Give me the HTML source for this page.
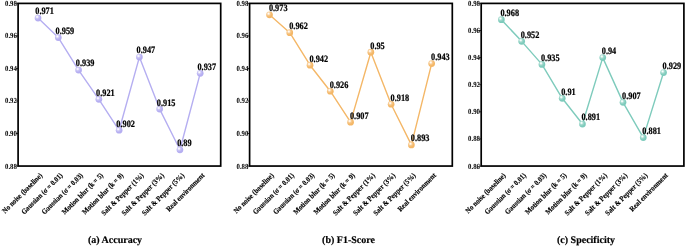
<!DOCTYPE html><html><head><meta charset="utf-8"><style>html,body{margin:0;padding:0;background:#fff;}svg{display:block;will-change:transform;}text{text-rendering:geometricPrecision;font-family:"Liberation Serif",serif;font-weight:bold;fill:#000;}</style></head><body>
<svg width="685" height="246" viewBox="0 0 685 246">
<defs>
<radialGradient id="g0" cx="0.36" cy="0.33" r="0.62"><stop offset="0" stop-color="#ffffff"/><stop offset="0.15" stop-color="#f4f2fd"/><stop offset="0.42" stop-color="#c9c4f5"/><stop offset="0.8" stop-color="#b5aef1"/><stop offset="1" stop-color="#b5aef1"/></radialGradient>
<radialGradient id="g1" cx="0.36" cy="0.33" r="0.62"><stop offset="0" stop-color="#ffffff"/><stop offset="0.15" stop-color="#fff3e4"/><stop offset="0.42" stop-color="#f7ca90"/><stop offset="0.8" stop-color="#f4b767"/><stop offset="1" stop-color="#f4b767"/></radialGradient>
<radialGradient id="g2" cx="0.36" cy="0.33" r="0.62"><stop offset="0" stop-color="#ffffff"/><stop offset="0.15" stop-color="#eef9f6"/><stop offset="0.42" stop-color="#a3d9cd"/><stop offset="0.8" stop-color="#7ecbbc"/><stop offset="1" stop-color="#7ecbbc"/></radialGradient>
</defs>
<line x1="15.90" y1="3.40" x2="18.10" y2="3.40" stroke="#000" stroke-width="0.8"/>
<text transform="translate(16.90 5.90) scale(0.87 1)" font-size="7.8" text-anchor="end">0.98</text>
<line x1="15.90" y1="35.93" x2="18.10" y2="35.93" stroke="#000" stroke-width="0.8"/>
<text transform="translate(16.90 38.43) scale(0.87 1)" font-size="7.8" text-anchor="end">0.96</text>
<line x1="15.90" y1="68.46" x2="18.10" y2="68.46" stroke="#000" stroke-width="0.8"/>
<text transform="translate(16.90 70.96) scale(0.87 1)" font-size="7.8" text-anchor="end">0.94</text>
<line x1="15.90" y1="100.99" x2="18.10" y2="100.99" stroke="#000" stroke-width="0.8"/>
<text transform="translate(16.90 103.49) scale(0.87 1)" font-size="7.8" text-anchor="end">0.92</text>
<line x1="15.90" y1="133.52" x2="18.10" y2="133.52" stroke="#000" stroke-width="0.8"/>
<text transform="translate(16.90 136.02) scale(0.87 1)" font-size="7.8" text-anchor="end">0.90</text>
<line x1="15.90" y1="166.05" x2="18.10" y2="166.05" stroke="#000" stroke-width="0.8"/>
<text transform="translate(16.90 168.55) scale(0.87 1)" font-size="7.8" text-anchor="end">0.88</text>
<polyline points="38.05,18.04 58.32,37.56 78.59,70.09 98.86,99.36 119.13,130.27 139.40,57.07 159.67,109.12 179.94,149.78 200.21,73.34" fill="none" stroke="#b5aef1" stroke-width="1.4" stroke-linejoin="round"/>
<circle cx="38.05" cy="18.04" r="3.35" fill="url(#g0)"/>
<circle cx="58.32" cy="37.56" r="3.35" fill="url(#g0)"/>
<circle cx="78.59" cy="70.09" r="3.35" fill="url(#g0)"/>
<circle cx="98.86" cy="99.36" r="3.35" fill="url(#g0)"/>
<circle cx="119.13" cy="130.27" r="3.35" fill="url(#g0)"/>
<circle cx="139.40" cy="57.07" r="3.35" fill="url(#g0)"/>
<circle cx="159.67" cy="109.12" r="3.35" fill="url(#g0)"/>
<circle cx="179.94" cy="149.78" r="3.35" fill="url(#g0)"/>
<circle cx="200.21" cy="73.34" r="3.35" fill="url(#g0)"/>
<text transform="translate(35.25 14.44) scale(0.85 1)" font-size="9.75" stroke="#000" stroke-width="0.22">0.971</text>
<text transform="translate(55.52 33.96) scale(0.85 1)" font-size="9.75" stroke="#000" stroke-width="0.22">0.959</text>
<text transform="translate(75.79 66.49) scale(0.85 1)" font-size="9.75" stroke="#000" stroke-width="0.22">0.939</text>
<text transform="translate(96.06 95.76) scale(0.85 1)" font-size="9.75" stroke="#000" stroke-width="0.22">0.921</text>
<text transform="translate(116.33 126.67) scale(0.85 1)" font-size="9.75" stroke="#000" stroke-width="0.22">0.902</text>
<text transform="translate(136.60 53.47) scale(0.85 1)" font-size="9.75" stroke="#000" stroke-width="0.22">0.947</text>
<text transform="translate(156.87 105.52) scale(0.85 1)" font-size="9.75" stroke="#000" stroke-width="0.22">0.915</text>
<text transform="translate(177.14 146.19) scale(0.85 1)" font-size="9.75" stroke="#000" stroke-width="0.22">0.89</text>
<text transform="translate(197.41 69.74) scale(0.85 1)" font-size="9.75" stroke="#000" stroke-width="0.22">0.937</text>
<rect x="18.10" y="3.40" width="202.60" height="162.65" fill="none" stroke="#000" stroke-width="1.7"/>
<text transform="translate(42.85 175.90) rotate(-45) scale(0.9 1)" font-size="7.45" text-anchor="end" stroke="#000" stroke-width="0.15">No noise (baseline)</text>
<text transform="translate(63.12 175.90) rotate(-45) scale(0.9 1)" font-size="7.45" text-anchor="end" stroke="#000" stroke-width="0.15">Gaussian (σ = 0.01)</text>
<text transform="translate(83.39 175.90) rotate(-45) scale(0.9 1)" font-size="7.45" text-anchor="end" stroke="#000" stroke-width="0.15">Gaussian (σ = 0.03)</text>
<text transform="translate(103.66 175.90) rotate(-45) scale(0.9 1)" font-size="7.45" text-anchor="end" stroke="#000" stroke-width="0.15">Motion blur (k = 5)</text>
<text transform="translate(123.93 175.90) rotate(-45) scale(0.9 1)" font-size="7.45" text-anchor="end" stroke="#000" stroke-width="0.15">Motion blur (k = 9)</text>
<text transform="translate(144.20 175.90) rotate(-45) scale(0.9 1)" font-size="7.45" text-anchor="end" stroke="#000" stroke-width="0.15">Salt &amp; Pepper (1%)</text>
<text transform="translate(164.47 175.90) rotate(-45) scale(0.9 1)" font-size="7.45" text-anchor="end" stroke="#000" stroke-width="0.15">Salt &amp; Pepper (3%)</text>
<text transform="translate(184.74 175.90) rotate(-45) scale(0.9 1)" font-size="7.45" text-anchor="end" stroke="#000" stroke-width="0.15">Salt &amp; Pepper (5%)</text>
<text transform="translate(205.01 175.90) rotate(-45) scale(0.9 1)" font-size="7.45" text-anchor="end" stroke="#000" stroke-width="0.15">Real environment</text>
<text x="115.00" y="243" font-size="10" text-anchor="middle" stroke="#000" stroke-width="0.18">(a) Accuracy</text>
<line x1="247.40" y1="3.40" x2="249.60" y2="3.40" stroke="#000" stroke-width="0.8"/>
<text transform="translate(248.40 5.90) scale(0.87 1)" font-size="7.8" text-anchor="end">0.98</text>
<line x1="247.40" y1="35.93" x2="249.60" y2="35.93" stroke="#000" stroke-width="0.8"/>
<text transform="translate(248.40 38.43) scale(0.87 1)" font-size="7.8" text-anchor="end">0.96</text>
<line x1="247.40" y1="68.46" x2="249.60" y2="68.46" stroke="#000" stroke-width="0.8"/>
<text transform="translate(248.40 70.96) scale(0.87 1)" font-size="7.8" text-anchor="end">0.94</text>
<line x1="247.40" y1="100.99" x2="249.60" y2="100.99" stroke="#000" stroke-width="0.8"/>
<text transform="translate(248.40 103.49) scale(0.87 1)" font-size="7.8" text-anchor="end">0.92</text>
<line x1="247.40" y1="133.52" x2="249.60" y2="133.52" stroke="#000" stroke-width="0.8"/>
<text transform="translate(248.40 136.02) scale(0.87 1)" font-size="7.8" text-anchor="end">0.90</text>
<line x1="247.40" y1="166.05" x2="249.60" y2="166.05" stroke="#000" stroke-width="0.8"/>
<text transform="translate(248.40 168.55) scale(0.87 1)" font-size="7.8" text-anchor="end">0.88</text>
<polyline points="269.50,14.79 289.77,32.68 310.04,65.21 330.31,91.23 350.58,122.13 370.85,52.20 391.12,104.24 411.39,144.91 431.66,63.58" fill="none" stroke="#f4b767" stroke-width="1.4" stroke-linejoin="round"/>
<circle cx="269.50" cy="14.79" r="3.35" fill="url(#g1)"/>
<circle cx="289.77" cy="32.68" r="3.35" fill="url(#g1)"/>
<circle cx="310.04" cy="65.21" r="3.35" fill="url(#g1)"/>
<circle cx="330.31" cy="91.23" r="3.35" fill="url(#g1)"/>
<circle cx="350.58" cy="122.13" r="3.35" fill="url(#g1)"/>
<circle cx="370.85" cy="52.20" r="3.35" fill="url(#g1)"/>
<circle cx="391.12" cy="104.24" r="3.35" fill="url(#g1)"/>
<circle cx="411.39" cy="144.91" r="3.35" fill="url(#g1)"/>
<circle cx="431.66" cy="63.58" r="3.35" fill="url(#g1)"/>
<text transform="translate(268.90 11.19) scale(0.85 1)" font-size="9.75" stroke="#000" stroke-width="0.22">0.973</text>
<text transform="translate(289.17 29.08) scale(0.85 1)" font-size="9.75" stroke="#000" stroke-width="0.22">0.962</text>
<text transform="translate(309.44 61.61) scale(0.85 1)" font-size="9.75" stroke="#000" stroke-width="0.22">0.942</text>
<text transform="translate(329.71 87.63) scale(0.85 1)" font-size="9.75" stroke="#000" stroke-width="0.22">0.926</text>
<text transform="translate(349.98 118.53) scale(0.85 1)" font-size="9.75" stroke="#000" stroke-width="0.22">0.907</text>
<text transform="translate(370.25 48.60) scale(0.85 1)" font-size="9.75" stroke="#000" stroke-width="0.22">0.95</text>
<text transform="translate(390.52 100.64) scale(0.85 1)" font-size="9.75" stroke="#000" stroke-width="0.22">0.918</text>
<text transform="translate(410.79 141.31) scale(0.85 1)" font-size="9.75" stroke="#000" stroke-width="0.22">0.893</text>
<text transform="translate(431.06 59.98) scale(0.85 1)" font-size="9.75" stroke="#000" stroke-width="0.22">0.943</text>
<rect x="249.60" y="3.40" width="202.70" height="162.65" fill="none" stroke="#000" stroke-width="1.7"/>
<text transform="translate(274.30 175.90) rotate(-45) scale(0.9 1)" font-size="7.45" text-anchor="end" stroke="#000" stroke-width="0.15">No noise (baseline)</text>
<text transform="translate(294.57 175.90) rotate(-45) scale(0.9 1)" font-size="7.45" text-anchor="end" stroke="#000" stroke-width="0.15">Gaussian (σ = 0.01)</text>
<text transform="translate(314.84 175.90) rotate(-45) scale(0.9 1)" font-size="7.45" text-anchor="end" stroke="#000" stroke-width="0.15">Gaussian (σ = 0.03)</text>
<text transform="translate(335.11 175.90) rotate(-45) scale(0.9 1)" font-size="7.45" text-anchor="end" stroke="#000" stroke-width="0.15">Motion blur (k = 5)</text>
<text transform="translate(355.38 175.90) rotate(-45) scale(0.9 1)" font-size="7.45" text-anchor="end" stroke="#000" stroke-width="0.15">Motion blur (k = 9)</text>
<text transform="translate(375.65 175.90) rotate(-45) scale(0.9 1)" font-size="7.45" text-anchor="end" stroke="#000" stroke-width="0.15">Salt &amp; Pepper (1%)</text>
<text transform="translate(395.92 175.90) rotate(-45) scale(0.9 1)" font-size="7.45" text-anchor="end" stroke="#000" stroke-width="0.15">Salt &amp; Pepper (3%)</text>
<text transform="translate(416.19 175.90) rotate(-45) scale(0.9 1)" font-size="7.45" text-anchor="end" stroke="#000" stroke-width="0.15">Salt &amp; Pepper (5%)</text>
<text transform="translate(436.46 175.90) rotate(-45) scale(0.9 1)" font-size="7.45" text-anchor="end" stroke="#000" stroke-width="0.15">Real environment</text>
<text x="348.50" y="243" font-size="10" text-anchor="middle" stroke="#000" stroke-width="0.18">(b) F1-Score</text>
<line x1="479.00" y1="3.40" x2="481.20" y2="3.40" stroke="#000" stroke-width="0.8"/>
<text transform="translate(480.00 5.90) scale(0.87 1)" font-size="7.8" text-anchor="end">0.98</text>
<line x1="479.00" y1="30.51" x2="481.20" y2="30.51" stroke="#000" stroke-width="0.8"/>
<text transform="translate(480.00 33.01) scale(0.87 1)" font-size="7.8" text-anchor="end">0.96</text>
<line x1="479.00" y1="57.62" x2="481.20" y2="57.62" stroke="#000" stroke-width="0.8"/>
<text transform="translate(480.00 60.12) scale(0.87 1)" font-size="7.8" text-anchor="end">0.94</text>
<line x1="479.00" y1="84.73" x2="481.20" y2="84.73" stroke="#000" stroke-width="0.8"/>
<text transform="translate(480.00 87.23) scale(0.87 1)" font-size="7.8" text-anchor="end">0.92</text>
<line x1="479.00" y1="111.83" x2="481.20" y2="111.83" stroke="#000" stroke-width="0.8"/>
<text transform="translate(480.00 114.33) scale(0.87 1)" font-size="7.8" text-anchor="end">0.90</text>
<line x1="479.00" y1="138.94" x2="481.20" y2="138.94" stroke="#000" stroke-width="0.8"/>
<text transform="translate(480.00 141.44) scale(0.87 1)" font-size="7.8" text-anchor="end">0.88</text>
<line x1="479.00" y1="166.05" x2="481.20" y2="166.05" stroke="#000" stroke-width="0.8"/>
<text transform="translate(480.00 168.55) scale(0.87 1)" font-size="7.8" text-anchor="end">0.86</text>
<polyline points="501.40,19.67 521.67,41.35 541.94,64.39 562.21,98.28 582.48,124.03 602.75,57.62 623.02,102.35 643.29,137.59 663.56,72.53" fill="none" stroke="#7ecbbc" stroke-width="1.4" stroke-linejoin="round"/>
<circle cx="501.40" cy="19.67" r="3.35" fill="url(#g2)"/>
<circle cx="521.67" cy="41.35" r="3.35" fill="url(#g2)"/>
<circle cx="541.94" cy="64.39" r="3.35" fill="url(#g2)"/>
<circle cx="562.21" cy="98.28" r="3.35" fill="url(#g2)"/>
<circle cx="582.48" cy="124.03" r="3.35" fill="url(#g2)"/>
<circle cx="602.75" cy="57.62" r="3.35" fill="url(#g2)"/>
<circle cx="623.02" cy="102.35" r="3.35" fill="url(#g2)"/>
<circle cx="643.29" cy="137.59" r="3.35" fill="url(#g2)"/>
<circle cx="663.56" cy="72.53" r="3.35" fill="url(#g2)"/>
<text transform="translate(500.40 16.07) scale(0.85 1)" font-size="9.75" stroke="#000" stroke-width="0.22">0.968</text>
<text transform="translate(520.67 37.75) scale(0.85 1)" font-size="9.75" stroke="#000" stroke-width="0.22">0.952</text>
<text transform="translate(540.94 60.79) scale(0.85 1)" font-size="9.75" stroke="#000" stroke-width="0.22">0.935</text>
<text transform="translate(561.21 94.68) scale(0.85 1)" font-size="9.75" stroke="#000" stroke-width="0.22">0.91</text>
<text transform="translate(581.48 120.43) scale(0.85 1)" font-size="9.75" stroke="#000" stroke-width="0.22">0.891</text>
<text transform="translate(601.75 54.02) scale(0.85 1)" font-size="9.75" stroke="#000" stroke-width="0.22">0.94</text>
<text transform="translate(622.02 98.75) scale(0.85 1)" font-size="9.75" stroke="#000" stroke-width="0.22">0.907</text>
<text transform="translate(642.29 133.99) scale(0.85 1)" font-size="9.75" stroke="#000" stroke-width="0.22">0.881</text>
<text transform="translate(662.56 68.93) scale(0.85 1)" font-size="9.75" stroke="#000" stroke-width="0.22">0.929</text>
<rect x="481.20" y="3.40" width="202.70" height="162.65" fill="none" stroke="#000" stroke-width="1.7"/>
<text transform="translate(506.20 175.90) rotate(-45) scale(0.9 1)" font-size="7.45" text-anchor="end" stroke="#000" stroke-width="0.15">No noise (baseline)</text>
<text transform="translate(526.47 175.90) rotate(-45) scale(0.9 1)" font-size="7.45" text-anchor="end" stroke="#000" stroke-width="0.15">Gaussian (σ = 0.01)</text>
<text transform="translate(546.74 175.90) rotate(-45) scale(0.9 1)" font-size="7.45" text-anchor="end" stroke="#000" stroke-width="0.15">Gaussian (σ = 0.03)</text>
<text transform="translate(567.01 175.90) rotate(-45) scale(0.9 1)" font-size="7.45" text-anchor="end" stroke="#000" stroke-width="0.15">Motion blur (k = 5)</text>
<text transform="translate(587.28 175.90) rotate(-45) scale(0.9 1)" font-size="7.45" text-anchor="end" stroke="#000" stroke-width="0.15">Motion blur (k = 9)</text>
<text transform="translate(607.55 175.90) rotate(-45) scale(0.9 1)" font-size="7.45" text-anchor="end" stroke="#000" stroke-width="0.15">Salt &amp; Pepper (1%)</text>
<text transform="translate(627.82 175.90) rotate(-45) scale(0.9 1)" font-size="7.45" text-anchor="end" stroke="#000" stroke-width="0.15">Salt &amp; Pepper (3%)</text>
<text transform="translate(648.09 175.90) rotate(-45) scale(0.9 1)" font-size="7.45" text-anchor="end" stroke="#000" stroke-width="0.15">Salt &amp; Pepper (5%)</text>
<text transform="translate(668.36 175.90) rotate(-45) scale(0.9 1)" font-size="7.45" text-anchor="end" stroke="#000" stroke-width="0.15">Real environment</text>
<text x="586.00" y="243" font-size="10" text-anchor="middle" stroke="#000" stroke-width="0.18">(c) Specificity</text>
</svg></body></html>
